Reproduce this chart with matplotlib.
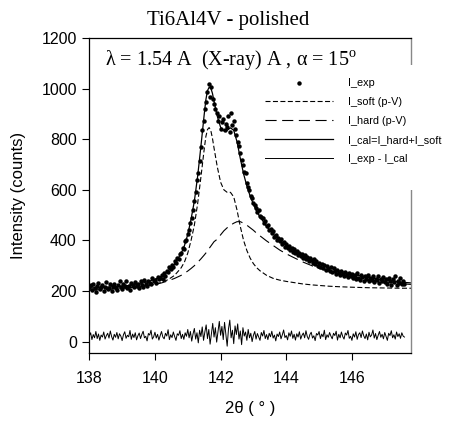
import numpy as np
import matplotlib
matplotlib.use("Agg")
import matplotlib.pyplot as plt
from matplotlib.patches import Rectangle

# ---------------- data ----------------
scan_start = 138.0
scan_step = 0.04

i_exp = [
    215, 222, 205, 228, 210, 198, 219, 231, 207, 214, 224, 202, 217, 236, 209, 213, 226, 200, 218, 229,
    211, 204, 222, 238, 215, 207, 227, 219, 240, 212, 221, 205, 230, 224, 214, 236, 218, 228,
    211, 239, 224, 216, 245, 229, 221, 240, 232, 226, 250, 238, 244, 231, 256, 247, 252, 262, 249, 270,
    258, 281, 276, 296, 286, 302, 295, 318, 310, 331, 327, 345, 352, 371, 366, 398, 402,
    425, 440, 470, 488, 522, 555, 590, 640, 668, 712, 770, 835, 870, 920, 948, 985, 1020, 968, 1005, 960,
    940, 918, 905, 872, 890,
    842, 868, 880, 835, 862, 848, 892, 830, 905, 858, 870, 842, 818, 790, 772, 745, 718, 700, 672, 665,
    628, 612, 598, 575, 568,
    548, 540, 530, 512, 522, 498, 492, 488, 470, 476, 455, 462, 440, 446, 428, 436, 415, 420, 402, 410,
    396, 405, 385, 392, 374,
    386, 370, 378, 362, 370, 356, 366, 349, 360, 344, 352, 338, 345, 330, 342, 325, 336, 318, 330, 322,
    312, 326, 305, 318, 300,
    310, 296, 307, 290, 302, 285, 298, 288, 280, 296, 274, 289, 278, 268, 284, 272, 262, 281, 266, 258,
    276, 262, 254, 272, 258,
    268, 250, 264, 248, 270, 252, 244, 262, 255, 240, 258, 246, 262, 238, 252, 244, 260, 236, 249, 242,
    258, 232, 246, 240, 255,
    234, 248, 228, 252, 238, 225, 246, 234, 258, 222, 240, 231, 250, 226, 238, 229,
]

i_resid = [
    22, 35, 8, 28, 15, 40, 12, 30, 5, 26, 18, 38, 10, 24, 33, 14, 42, 20, 6, 29,
    17, 36, 11, 31, 22, 4, 27, 39, 13, 25, 19, 44, 9, 30, 16, 35, 7, 23, 34, 12,
    28, 41, 15, 21, 3, 32, 26, 45, 10, 19, 37, 14, 29, 6, 24, 40, 18, 11, 33, 22,
    47, 8, 27, 16, 38, 20, 5, 31, 25, 43, 12, 29, 9, 35, 21, 48,
    15, 40, 2, 30, 52, 10, 35, -5, 45, 20, 58, 5, 38, 66, 12, 48, -10, 30, 72, 18,
    55, -2, 40, 80, 25, 60, 8, 76, 30, -18, 50, 85, 15, 45, -8, 62, 28, 70, 10, 42,
    -12, 55, 22, 38, 5, 48, 15, 33, 0,
    25, 40, 10, 32, 18, 5, 36, 22, 44, 12, 28, 8, 33, 19, 41, 14, 26, 3, 30, 20,
    38, 11, 27, 46, 16, 24, 7, 35, 21, 42, 13, 29, 6, 31, 18, 39, 10, 25, 34, 15,
    43, 20, 9, 28, 37, 14, 23, 4, 32, 26, 40, 12, 30, 19, 45, 8, 27, 17, 36, 22,
    11, 33, 24, 41, 6, 29, 15, 38, 20, 10, 34, 26, 44, 13, 21, 5, 31, 18, 39, 9,
    28, 35, 16, 42, 23, 12, 30, 7, 37, 19, 26, 46, 14, 32, 8, 25, 40, 17, 29, 11,
    36, 21, 5, 33, 24, 43, 15, 27, 10, 38, 20, 31, 13, 35, 22, 18,
]

curve_x = [138.0, 138.5, 139.0, 139.5, 140.0, 140.2, 140.4, 140.6, 140.8, 140.9,
           141.0, 141.1, 141.2, 141.3, 141.4, 141.5, 141.55, 141.6, 141.65, 141.7,
           141.75, 141.8, 141.9, 142.0, 142.1, 142.2, 142.3, 142.4, 142.5, 142.6,
           142.7, 142.8, 142.9, 143.0, 143.1, 143.2, 143.4, 143.6, 143.8, 144.0,
           144.2, 144.5, 144.8, 145.0, 145.3, 145.6, 146.0, 146.5, 147.0, 147.5, 147.8]

i_soft = [207, 209, 212, 217, 227, 234, 245, 262, 292, 315,
          350, 400, 460, 545, 650, 760, 810, 838, 846, 835,
          805, 765, 690, 630, 600, 590, 590, 572, 520, 455,
          400, 360, 330, 308, 292, 280, 262, 250, 243, 238,
          234, 228, 224, 222, 219, 217, 215, 213, 212, 211, 211]

i_hard = [203, 206, 210, 216, 226, 232, 240, 250, 262, 270,
          279, 289, 300, 313, 327, 342, 350, 359, 368, 377,
          386, 395, 405, 422, 438, 450, 460, 468, 474, 474,
          468, 460, 450, 440, 428, 418, 398, 380, 362, 347,
          334, 315, 299, 290, 279, 268, 257, 245, 236, 229, 226]

i_cal = [212, 215, 219, 226, 246, 259, 280, 307, 349, 380,
         424, 484, 555, 653, 772, 897, 955, 992, 1005, 1003,
         982, 950, 890, 847, 833, 835, 845, 835, 790, 724,
         663, 615, 575, 543, 515, 493, 455, 425, 400, 380,
         363, 338, 318, 307, 293, 280, 267, 253, 243, 235, 232]

x_ticks = [138, 140, 142, 144, 146]
y_ticks = [0, 200, 400, 600, 800, 1000, 1200]

title = "Ti6Al4V - polished"
subtitle = "\u03bb = 1.54 A  (X-ray) A , \u03b1 = 15$^{\\mathrm{o}}$"
labels = ["I_exp", "I_soft (p-V)", "I_hard (p-V)", "I_cal=I_hard+I_soft", "I_exp - I_cal"]

# ---------------- figure ----------------
plt.rcParams['mathtext.fontset'] = 'custom'
plt.rcParams['mathtext.rm'] = 'Liberation Serif'
sans = ['Liberation Sans', 'DejaVu Sans']
serif = ['Liberation Serif', 'DejaVu Serif']

W, H = 457, 421
fig = plt.figure(figsize=(W / 100, H / 100), dpi=100)
L, R, B, T = 89.3, 411, 353, 38
ax = fig.add_axes([L / W, 1 - B / H, (R - L) / W, (B - T) / H])

x_exp = np.round(scan_start + scan_step * np.arange(len(i_exp)), 2)

h_exp, = ax.plot(x_exp, i_exp, 'o', color='black', markersize=3.2, markeredgewidth=0, zorder=3)
h_soft, = ax.plot(curve_x, i_soft, color='black', lw=0.8, dashes=(4.5, 2.2), zorder=2)
h_hard, = ax.plot(curve_x, i_hard, color='black', lw=0.8, dashes=(10, 5), zorder=2)
h_cal, = ax.plot(curve_x, i_cal, color='black', lw=0.9, zorder=2)
h_res, = ax.plot(x_exp, i_resid, color='black', lw=0.7, zorder=2)

ax.set_xlim(138, 147.8)
ax.set_ylim(-45, 1200)
ax.set_xticks(x_ticks)
ax.set_yticks(y_ticks)
ax.tick_params(direction='out', length=5, width=0.8, labelsize=11.5)
ax.tick_params(axis='x', pad=8)
ax.tick_params(axis='y', pad=4)
for lab in ax.get_xticklabels() + ax.get_yticklabels():
    lab.set_fontfamily(sans)
for s in ['left', 'bottom', 'top']:
    ax.spines[s].set_linewidth(0.9)
    ax.spines[s].set_color('black')
ax.spines['right'].set_color('#888888')
ax.spines['right'].set_linewidth(1.0)

ax.set_xlabel("2\u03b8 ( \u00b0 )", fontsize=12, family=sans)
ax.set_ylabel("Intensity (counts)", fontsize=12, family=sans)
ax.xaxis.set_label_coords(0.5, -0.152)
ax.yaxis.set_label_coords(-0.197, 0.5)

fig.text(0.5, 1 - 20 / H, title, ha='center', va='center', fontsize=15, family=serif)
ax.text(0.049, 0.93, subtitle, transform=ax.transAxes, ha='left', va='center',
        fontsize=14.5, family=serif)

# white box behind legend (hides part of the right spine)
ax.add_patch(Rectangle((0.95, 0.517), 0.12, 0.397, transform=ax.transAxes,
                       facecolor='white', edgecolor='none', clip_on=False, zorder=4))

leg = ax.legend([h_exp, h_soft, h_hard, h_cal, h_res], labels,
                loc='upper left', bbox_to_anchor=(0.546, 0.872), frameon=False,
                borderpad=0, borderaxespad=0, handlelength=6.3, handletextpad=1.4,
                labelspacing=0.82, numpoints=1, prop={'family': sans, 'size': 7.8})
leg.set_zorder(5)

fig.savefig("out.png", dpi=100)
